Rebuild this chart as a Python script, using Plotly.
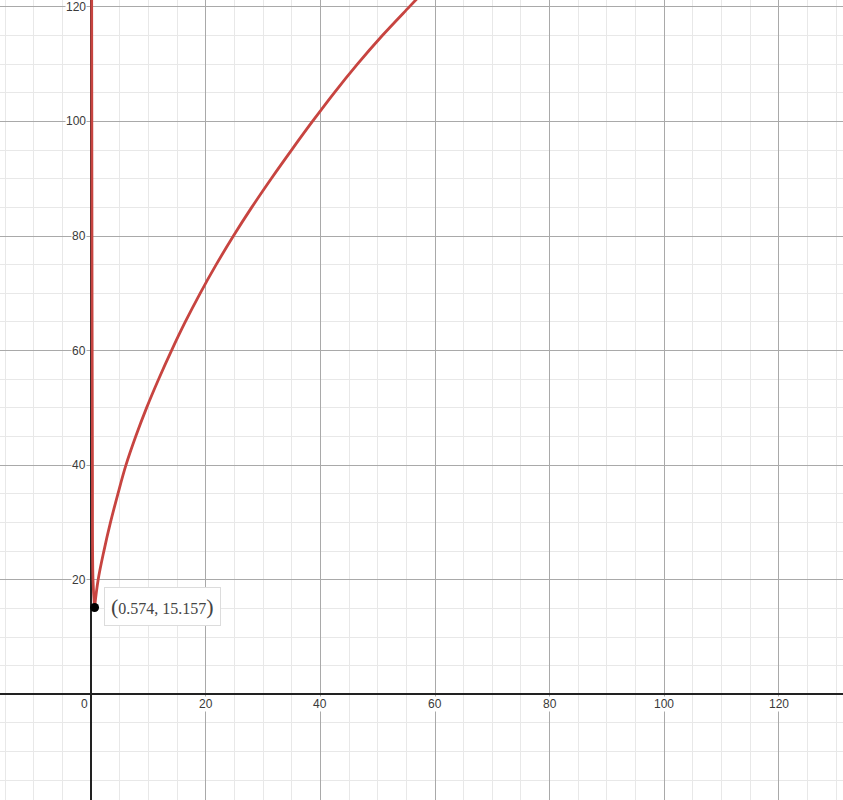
import plotly.graph_objects as go

# curve: right-hand branch and the near-vertical left branch
right_x = [0.574, 1.2, 2.2, 3.35, 4.65, 6.05, 7.75, 9.65, 11.75, 14.0, 16.4, 19.0,
           21.8, 24.8, 28.0, 31.4, 34.95, 38.6, 42.4, 46.45, 50.8, 55.5, 57.4]
right_y = [15.157, 20, 25, 30, 35, 40, 45, 50, 55, 60, 65, 70,
           75, 80, 85, 90, 95, 100, 105, 110, 115, 120, 122]
left_x = [0.574, 0.3, 0.2, 0.12, 0.07]
left_y = [15.157, 20, 40, 80, 122]

point_x = [0.574]
point_y = [15.157]
point_label = "(0.574, 15.157)"

x_ticks = [0, 20, 40, 60, 80, 100, 120]
y_ticks = [20, 40, 60, 80, 100, 120]

red = "#c74440"
label_font = dict(family="Liberation Sans, Arial", size=12, color="#3a3a3a")

fig = go.Figure()
fig.add_trace(go.Scatter(x=left_x, y=left_y, mode="lines",
                         line=dict(color=red, width=2.8, shape="spline")))
fig.add_trace(go.Scatter(x=right_x, y=right_y, mode="lines",
                         line=dict(color=red, width=2.8, shape="spline", smoothing=1)))
fig.add_trace(go.Scatter(x=point_x, y=point_y, mode="markers",
                         marker=dict(color="black", size=9)))

annotations = []
for t in x_ticks:
    annotations.append(dict(x=t, y=0, text=str(t), showarrow=False,
                            xanchor="center", yanchor="middle",
                            xshift=-6.5 if t == 0 else 0, yshift=-10,
                            font=label_font, bgcolor="white", borderpad=0))
for t in y_ticks:
    annotations.append(dict(x=0, y=t, text=str(t), showarrow=False,
                            xanchor="right", yanchor="middle", xshift=-4,
                            font=label_font, bgcolor="white", borderpad=0))

# coordinate label box next to the point
big = "<span style='font-size:22px'>"
txt = big + "(</span>" + point_label[1:-1] + big + ")</span>"
annotations.append(dict(x=point_x[0], y=point_y[0], text=txt, showarrow=False,
                        xanchor="left", yanchor="middle", xshift=9, yshift=1,
                        font=dict(family="Liberation Serif, Times New Roman", size=16, color="#444"),
                        bgcolor="white", bordercolor="#dcdcdc", borderwidth=1, borderpad=6))

axis_style = dict(
    dtick=20, tick0=0, showgrid=True, gridcolor="#a9a9a9", gridwidth=1,
    minor=dict(dtick=5, tick0=0, showgrid=True, gridcolor="#e8e8e8", gridwidth=1),
    zeroline=True, zerolinecolor="#222", zerolinewidth=1.6,
    showticklabels=False, ticks="", showline=False, fixedrange=True,
)

fig.update_layout(
    width=843, height=800,
    margin=dict(l=0, r=0, t=0, b=0),
    plot_bgcolor="white", paper_bgcolor="white",
    showlegend=False,
    xaxis=dict(range=[-15.93, 131.2], **axis_style),
    yaxis=dict(range=[-18.45, 121.2], **axis_style),
    annotations=annotations,
)

# drop the browser's default body margin so the graph fills the window
fig.write_html("out.html", config={"displayModeBar": False},
               post_script="document.body.style.margin='0';document.body.style.overflow='hidden';")
